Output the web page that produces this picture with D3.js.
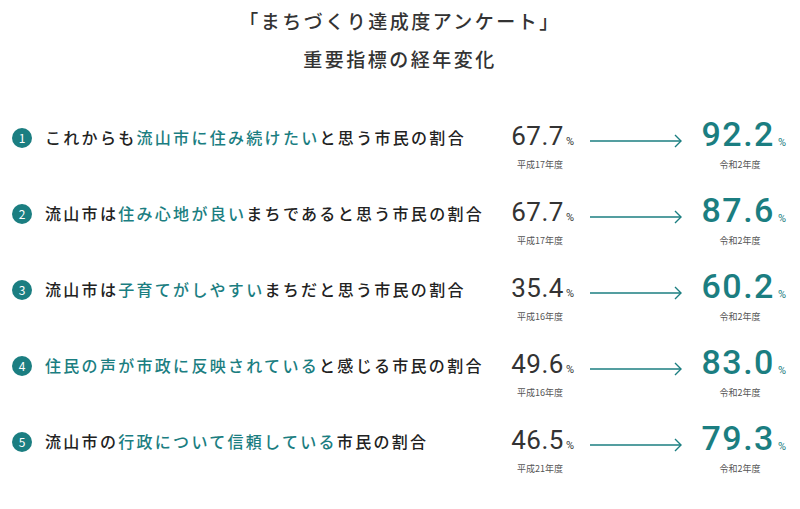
<!DOCTYPE html>
<html><head><meta charset="utf-8">
<script src="https://cdn.jsdelivr.net/npm/d3@7"></script>
<style>body{margin:0;background:#fff}text{font-family:"Noto Sans CJK JP","Noto Sans",sans-serif}.num{font-family:Roboto,sans-serif}</style>
</head><body><svg id="c" width="800" height="509"></svg>
<script>
// 指標の文言（[通常, 強調, 通常]）
const labels = [
  ["これからも", "流山市に住み続けたい", "と思う市民の割合"],
  ["流山市は", "住み心地が良い", "まちであると思う市民の割合"],
  ["流山市は", "子育てがしやすい", "まちだと思う市民の割合"],
  ["", "住民の声が市政に反映されている", "と感じる市民の割合"],
  ["流山市の", "行政について信頼している", "市民の割合"]
];
const oldValues = [67.7, 67.7, 35.4, 49.6, 46.5];
const oldYears = ["平成17年度", "平成17年度", "平成16年度", "平成16年度", "平成21年度"];
const newValues = [92.2, 87.6, 60.2, 83.0, 79.3];
const newYears = ["令和2年度", "令和2年度", "令和2年度", "令和2年度", "令和2年度"];

const teal = "#1b7e81", dark = "#222";
const svg = d3.select("#c");

svg.append("text").attr("x", 400).attr("y", 29).attr("text-anchor", "middle")
  .attr("font-size", 19).attr("font-weight", 500).attr("letter-spacing", 2.5).attr("fill", "#333")
  .text("「まちづくり達成度アンケート」");
svg.append("text").attr("x", 400).attr("y", 67).attr("text-anchor", "middle")
  .attr("font-size", 19).attr("font-weight", 500).attr("letter-spacing", 2.5).attr("fill", "#333")
  .text("重要指標の経年変化");

const y = d3.scaleBand().domain(d3.range(labels.length)).range([100, 480]);

const rows = svg.selectAll("g.row").data(labels).join("g")
  .attr("transform", (d, i) => `translate(0,${y(i) + y.bandwidth() / 2})`);

rows.append("circle").attr("cx", 22).attr("cy", 0).attr("r", 10).attr("fill", teal);
rows.append("text").attr("x", 22).attr("y", 4.5).attr("text-anchor", "middle")
  .attr("font-size", 12).attr("fill", "#fff").text((d, i) => i + 1);

const lab = rows.append("text").attr("x", 45).attr("y", 6).attr("font-size", 16)
  .attr("letter-spacing", 2.3);
lab.selectAll("tspan").data(d => d).join("tspan")
  .attr("fill", (d, j) => j === 1 ? teal : dark)
  .attr("font-weight", 500)
  .text(d => d);

const ov = rows.append("text").attr("class", "num").attr("x", 574).attr("y", 7).attr("text-anchor", "end").attr("fill", "#333");
ov.append("tspan").attr("font-size", 26).attr("letter-spacing", 0.5).text((d, i) => oldValues[i].toFixed(1));
ov.append("tspan").attr("font-size", 11).attr("dx", 2).text("%");
rows.append("text").attr("x", 540).attr("y", 30).attr("text-anchor", "middle")
  .attr("font-size", 9).attr("fill", "#555").text((d, i) => oldYears[i]);

rows.append("line").attr("x1", 590).attr("x2", 681).attr("y1", 3).attr("y2", 3)
  .attr("stroke", teal).attr("stroke-width", 1.4);
rows.append("path").attr("d", "M675,-3 L681,3 L675,9").attr("fill", "none")
  .attr("stroke", teal).attr("stroke-width", 1.4);

const nv = rows.append("text").attr("class", "num").attr("x", 786).attr("y", 8).attr("text-anchor", "end").attr("fill", teal);
nv.append("tspan").attr("font-size", 34).attr("font-weight", 500).attr("letter-spacing", 1.5).text((d, i) => newValues[i].toFixed(1));
nv.append("tspan").attr("font-size", 11).attr("dx", 3).text("%");
rows.append("text").attr("x", 740).attr("y", 30).attr("text-anchor", "middle")
  .attr("font-size", 9).attr("fill", "#555").text((d, i) => newYears[i]);
</script></body></html>
